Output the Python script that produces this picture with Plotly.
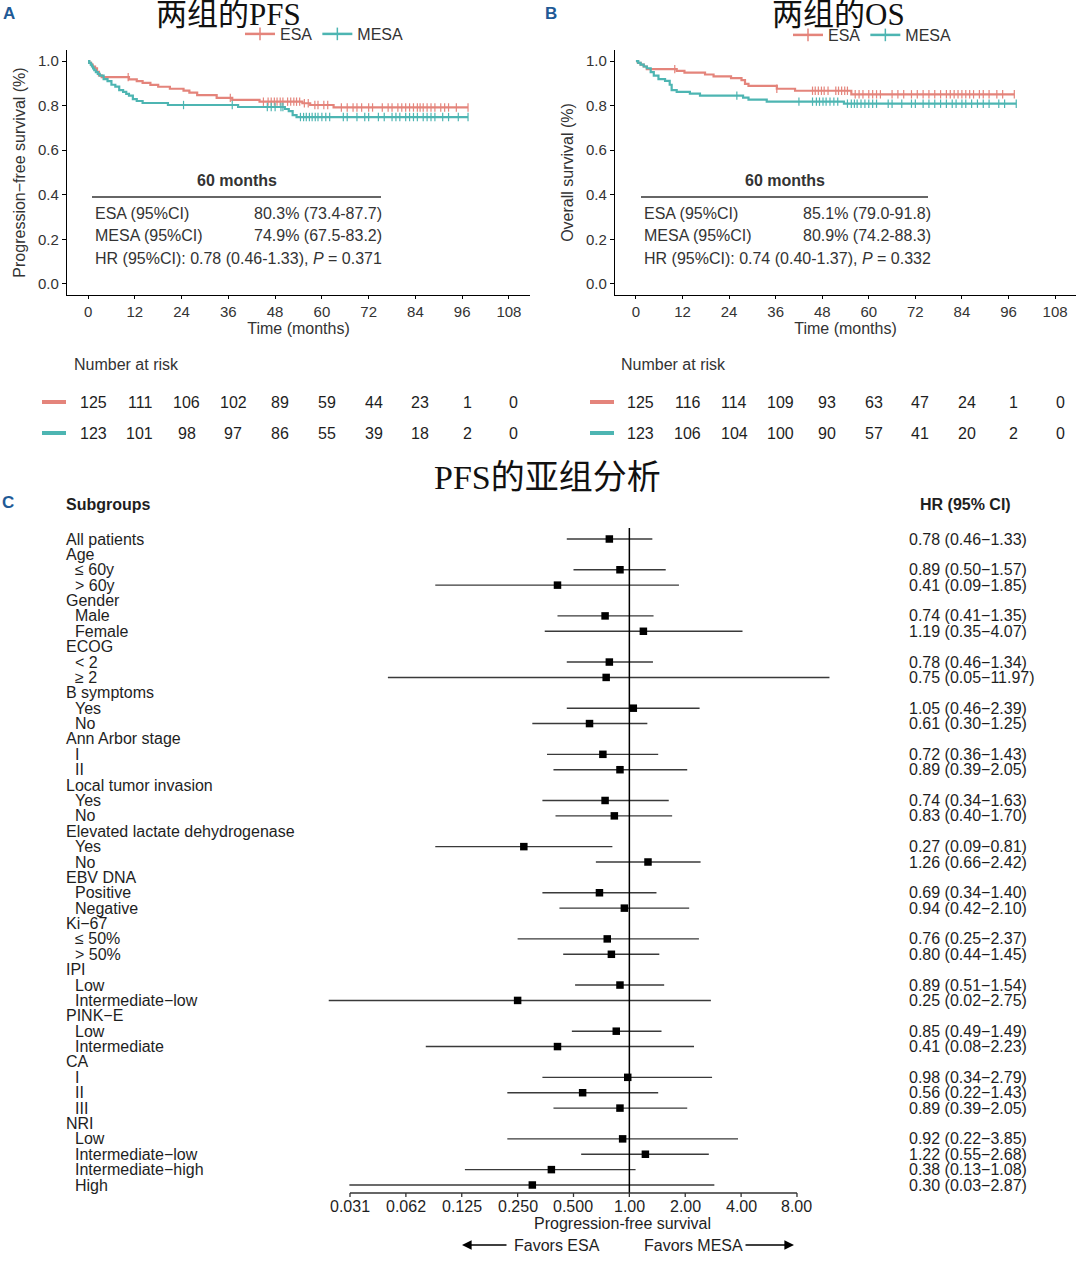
import numpy as np
import math
import plotly.graph_objects as go

# ---------------- DATA ----------------
# Panel A: PFS Kaplan-Meier (event times in months and survival after each step)
pfs_esa_t = [0.3, 0.8, 1.2, 1.8, 2.3, 2.8, 3.5, 10.5, 12.5, 14.0, 16.0, 18.0, 21.0, 24.5, 26.0, 28.0, 33.0, 37.0, 44.0, 55.0, 57.0, 63.0]
pfs_esa_s = [0.992, 0.984, 0.976, 0.968, 0.952, 0.936, 0.928, 0.918, 0.910, 0.902, 0.893, 0.885, 0.876, 0.868, 0.859, 0.847, 0.835, 0.826, 0.818, 0.811, 0.803, 0.792]
pfs_esa_cens = [10.3, 36.5, 45.0, 46.2, 47.0, 47.8, 48.5, 49.3, 50.0, 51.2, 52.0, 52.8, 53.5, 54.3, 55.5, 56.5, 58.2, 59.0, 60.5, 61.5,
                65.0, 66.5, 68.0, 69.0, 70.2, 72.0, 73.0, 75.5, 77.0, 78.0, 79.5, 80.5, 81.5, 82.5, 83.5, 84.5, 85.2, 86.0, 87.0,
                88.0, 89.0, 90.5, 91.5, 92.5, 94.5, 97.5]
pfs_mesa_t = [0.3, 0.7, 1.0, 1.3, 1.6, 2.0, 2.5, 3.0, 4.0, 5.0, 6.0, 7.0, 8.0, 9.0, 9.8, 10.5, 11.5, 12.5, 14.0, 20.5, 38.5, 50.5, 51.5, 52.5, 53.5]
pfs_mesa_s = [0.992, 0.984, 0.976, 0.967, 0.959, 0.951, 0.943, 0.935, 0.919, 0.910, 0.894, 0.886, 0.870, 0.862, 0.853, 0.845, 0.829, 0.821, 0.812, 0.803, 0.794, 0.785, 0.776, 0.758, 0.749]
pfs_mesa_cens = [24.5, 37.0, 46.0, 47.0, 48.0, 49.5, 50.0, 54.5, 55.3, 56.0, 56.8, 57.5, 58.3, 59.0, 60.0, 61.0, 62.0, 65.5, 66.5,
                 69.0, 71.0, 72.0, 74.5, 76.0, 78.0, 79.0, 80.0, 81.5, 82.5, 83.5, 84.5, 86.0, 87.0, 88.0, 89.0, 91.0, 92.5, 95.0, 97.5]

# Panel B: OS Kaplan-Meier
os_esa_t = [0.5, 1.2, 2.0, 2.8, 10.5, 12.5, 17.8, 20.0, 24.5, 27.2, 28.1, 29.0, 36.3, 41.0, 55.5]
os_esa_s = [0.992, 0.984, 0.976, 0.964, 0.956, 0.948, 0.940, 0.932, 0.924, 0.915, 0.898, 0.889, 0.876, 0.867, 0.851]
os_esa_cens = [10.0, 36.3, 45.5, 46.2, 47.0, 47.8, 48.5, 49.5, 51.5, 52.2, 53.0, 53.8, 54.5, 56.5, 57.5, 58.5, 60.0, 61.0, 62.0,
               63.0, 66.0, 67.5, 69.0, 71.0, 72.5, 74.0, 75.5, 77.0, 78.5, 80.0, 81.0, 82.0, 83.0, 84.0, 85.0, 86.0, 87.0, 88.5,
               89.5, 91.0, 93.0, 94.5, 97.5]
os_mesa_t = [0.6, 1.2, 2.0, 2.8, 3.8, 4.6, 5.8, 7.5, 8.7, 9.2, 10.5, 13.9, 16.5, 27.6, 29.0, 33.7, 53.6]
os_mesa_s = [0.992, 0.984, 0.976, 0.968, 0.951, 0.935, 0.919, 0.911, 0.894, 0.870, 0.862, 0.854, 0.845, 0.836, 0.827, 0.818, 0.809]
os_mesa_cens = [26.0, 42.0, 45.5, 46.5, 47.3, 48.2, 49.0, 50.0, 51.0, 52.0, 54.5, 55.5, 56.3, 57.0, 58.0, 59.0, 60.0, 61.0, 62.0,
                65.0, 66.0, 68.5, 71.0, 72.0, 74.0, 75.5, 77.0, 78.5, 80.0, 81.5, 82.5, 84.0, 85.0, 86.5, 88.0, 89.5, 91.0, 93.5,
                95.0, 98.0]

# Number at risk
risk_times = [0, 12, 24, 36, 48, 60, 72, 84, 96, 108]
pfs_risk_esa = [125, 111, 106, 102, 89, 59, 44, 23, 1, 0]
pfs_risk_mesa = [123, 101, 98, 97, 86, 55, 39, 18, 2, 0]
os_risk_esa = [125, 116, 114, 109, 93, 63, 47, 24, 1, 0]
os_risk_mesa = [123, 106, 104, 100, 90, 57, 41, 20, 2, 0]

# 60-month summary tables
pfs_summary = ["80.3% (73.4-87.7)", "74.9% (67.5-83.2)", "HR (95%CI): 0.78 (0.46-1.33), <i>P</i> = 0.371"]
os_summary = ["85.1% (79.0-91.8)", "80.9% (74.2-88.3)", "HR (95%CI): 0.74 (0.40-1.37), <i>P</i> = 0.332"]

# Panel C: forest plot
row_labels = ["All patients", "Age", "≤ 60y", "> 60y", "Gender", "Male", "Female", "ECOG", "< 2", "≥ 2",
              "B symptoms", "Yes", "No", "Ann Arbor stage", "I", "II", "Local tumor invasion", "Yes", "No",
              "Elevated lactate dehydrogenase", "Yes", "No", "EBV DNA", "Positive", "Negative", "Ki−67", "≤ 50%", "> 50%",
              "IPI", "Low", "Intermediate−low", "PINK−E", "Low", "Intermediate", "CA", "I", "II", "III",
              "NRI", "Low", "Intermediate−low", "Intermediate−high", "High"]
row_indent = [0, 0, 1, 1, 0, 1, 1, 0, 1, 1, 0, 1, 1, 0, 1, 1, 0, 1, 1, 0, 1, 1, 0, 1, 1, 0, 1, 1,
              0, 1, 1, 0, 1, 1, 0, 1, 1, 1, 0, 1, 1, 1, 1]
hr = [0.78, None, 0.89, 0.41, None, 0.74, 1.19, None, 0.78, 0.75, None, 1.05, 0.61, None, 0.72, 0.89, None, 0.74, 0.83,
      None, 0.27, 1.26, None, 0.69, 0.94, None, 0.76, 0.80, None, 0.89, 0.25, None, 0.85, 0.41, None, 0.98, 0.56, 0.89,
      None, 0.92, 1.22, 0.38, 0.30]
hr_lo = [0.46, None, 0.50, 0.09, None, 0.41, 0.35, None, 0.46, 0.05, None, 0.46, 0.30, None, 0.36, 0.39, None, 0.34, 0.40,
         None, 0.09, 0.66, None, 0.34, 0.42, None, 0.25, 0.44, None, 0.51, 0.024, None, 0.49, 0.08, None, 0.34, 0.22, 0.39,
         None, 0.22, 0.55, 0.13, 0.031]
hr_hi = [1.33, None, 1.57, 1.85, None, 1.35, 4.07, None, 1.34, 11.97, None, 2.39, 1.25, None, 1.43, 2.05, None, 1.63, 1.70,
         None, 0.81, 2.42, None, 1.40, 2.10, None, 2.37, 1.45, None, 1.54, 2.75, None, 1.49, 2.23, None, 2.79, 1.43, 2.05,
         None, 3.85, 2.68, 1.08, 2.87]
forest_ticks = [0.03125, 0.0625, 0.125, 0.25, 0.5, 1, 2, 4, 8]
forest_ticktext = ["0.031", "0.062", "0.125", "0.250", "0.500", "1.00", "2.00", "4.00", "8.00"]

# ---------------- STYLE / LAYOUT ----------------
W, H = 1080, 1266
def px(x): return x / W
def py(y): return 1 - y / H

ESA_C = "#E4847B"
MESA_C = "#4DB5B2"
SANS = "Liberation Sans, Arial, sans-serif"
SERIF = "Liberation Serif, Noto Sans CJK SC, serif"
TXT = "#1e1e1e"
TICK = "#333333"
PANEL_C = "#1F5A96"

fig = go.Figure()

def km_eval(times, surv, t):
    idx = np.searchsorted(np.array(times), np.array(t), side="right") - 1
    s = np.array([1.0] + list(surv))
    return s[idx + 1]

def add_km(times, surv, cens, color, xa, ya):
    end = max(cens)
    xs = [0] + list(times) + [end]
    ys = [1.0] + list(surv) + [surv[-1]]
    fig.add_trace(go.Scatter(x=xs, y=ys, mode="lines", line=dict(color=color, width=2.2, shape="hv"),
                             xaxis=xa, yaxis=ya, showlegend=False, hoverinfo="skip"))
    fig.add_trace(go.Scatter(x=cens, y=km_eval(times, surv, cens), mode="markers",
                             marker=dict(symbol="line-ns-open", size=6, color=color, line=dict(color=color, width=1.2)),
                             xaxis=xa, yaxis=ya, showlegend=False, hoverinfo="skip"))

add_km(pfs_esa_t, pfs_esa_s, pfs_esa_cens, ESA_C, "x", "y")
add_km(pfs_mesa_t, pfs_mesa_s, pfs_mesa_cens, MESA_C, "x", "y")
add_km(os_esa_t, os_esa_s, os_esa_cens, ESA_C, "x2", "y2")
add_km(os_mesa_t, os_mesa_s, os_mesa_cens, MESA_C, "x2", "y2")

# legend-only traces
for lg, xa, ya in [("legend", "x", "y"), ("legend2", "x2", "y2")]:
    for name, col in [("ESA", ESA_C), ("MESA", MESA_C)]:
        fig.add_trace(go.Scatter(x=[None], y=[None], mode="lines+markers", name=name,
                                 line=dict(color=col, width=2.5),
                                 marker=dict(symbol="line-ns-open", size=9, color=col, line=dict(color=col, width=1.5)),
                                 legend=lg, xaxis=xa, yaxis=ya, showlegend=True))

# forest plot
ci_x, ci_y, pt_x, pt_y = [], [], [], []
for i, (h, lo, hi) in enumerate(zip(hr, hr_lo, hr_hi)):
    if h is None:
        continue
    ci_x += [lo, hi, None]
    ci_y += [-i, -i, None]
    pt_x.append(h)
    pt_y.append(-i)
fig.add_trace(go.Scatter(x=ci_x, y=ci_y, mode="lines", line=dict(color="#3a3a3a", width=1.4),
                         xaxis="x3", yaxis="y3", showlegend=False, hoverinfo="skip"))
fig.add_trace(go.Scatter(x=pt_x, y=pt_y, mode="markers", marker=dict(symbol="square", size=7.5, color="black"),
                         xaxis="x3", yaxis="y3", showlegend=False, hoverinfo="skip"))

km_x_common = dict(range=[-5.4, 113.4], tickvals=risk_times, showgrid=False, zeroline=False,
                   showline=True, linecolor="black", linewidth=1.3, ticks="outside", ticklen=3,
                   tickcolor="black", tickfont=dict(family=SANS, size=15, color=TICK),
                   title=dict(text="Time (months)", font=dict(family=SANS, size=16, color=TICK), standoff=1),
                   automargin=False)
km_y_common = dict(range=[-0.05, 1.05], tickvals=[0, 0.2, 0.4, 0.6, 0.8, 1.0],
                   ticktext=["0.0", "0.2", "0.4", "0.6", "0.8", "1.0"], showgrid=False, zeroline=False,
                   showline=True, linecolor="black", linewidth=1.3, ticks="outside", ticklen=4,
                   tickcolor="black", tickfont=dict(family=SANS, size=15, color=TICK), automargin=False,
                   domain=[py(295), py(50)])

lg2 = math.log10(2)
fig.update_layout(
    width=W, height=H, margin=dict(l=0, r=0, t=0, b=0),
    paper_bgcolor="white", plot_bgcolor="white",
    xaxis=dict(domain=[px(67), px(530)], anchor="y", **km_x_common),
    yaxis=dict(anchor="x", title=dict(text="Progression−free survival (%)",
                                      font=dict(family=SANS, size=16, color=TICK), standoff=8), **km_y_common),
    xaxis2=dict(domain=[px(615), px(1076)], anchor="y2", **km_x_common),
    yaxis2=dict(anchor="x2", title=dict(text="Overall survival (%)",
                                        font=dict(family=SANS, size=16, color=TICK), standoff=8), **km_y_common),
    xaxis3=dict(domain=[px(300), px(860)], anchor="y3", type="log",
                range=[-5.895 * lg2, 4.128 * lg2], showticklabels=False, ticks="",
                showgrid=False, zeroline=False, showline=False, automargin=False),
    yaxis3=dict(domain=[py(1193), py(528)], anchor="x3", range=[-42.52, 0.715], visible=False,
                showgrid=False, zeroline=False),
    legend=dict(orientation="h", x=px(240), y=py(34), xanchor="left", yanchor="middle",
                font=dict(family=SANS, size=16, color=TICK), bgcolor="rgba(0,0,0,0)",
                itemwidth=30, tracegroupgap=0),
    legend2=dict(orientation="h", x=px(788), y=py(35), xanchor="left", yanchor="middle",
                 font=dict(family=SANS, size=16, color=TICK), bgcolor="rgba(0,0,0,0)",
                 itemwidth=30, tracegroupgap=0),
    showlegend=True,
)

ann = []
shapes = []

def text(x, y, s, size=16, anchor="left", bold=False, color=TXT, family=SANS, **kw):
    if bold:
        s = "<b>" + s + "</b>"
    ann.append(dict(x=x, y=y, xref="paper", yref="paper", text=s, showarrow=False, xanchor=anchor,
                    yanchor="middle", font=dict(family=family, size=size, color=color), **kw))

# Titles and panel letters
text(px(228), py(14.5), "两组的PFS", size=31, anchor="center", family=SERIF, color="#111111")
text(px(838), py(14.5), "两组的OS", size=31, anchor="center", family=SERIF, color="#111111")
text(px(547), py(477), "PFS的亚组分析", size=34, anchor="center", family=SERIF, color="#111111")
text(px(1), py(13), "A", size=17, bold=True, color=PANEL_C)
text(px(543), py(13), "B", size=17, bold=True, color=PANEL_C)
text(px(0), py(503), "C", size=17, bold=True, color=PANEL_C)

# 60-month summary boxes
for x0, x1, summ in [(92, 381, pfs_summary), (641, 928, os_summary)]:
    text(px((x0 + x1) / 2), py(181), "60 months", bold=True, anchor="center", color=TICK)
    shapes.append(dict(type="line", xref="paper", yref="paper", x0=px(x0), x1=px(x1), y0=py(197), y1=py(197),
                       line=dict(color="#333333", width=1.5)))
    text(px(x0 + 1), py(214), "ESA (95%CI)", color=TICK)
    text(px(x0 + 160), py(214), summ[0], color=TICK)
    text(px(x0 + 1), py(236), "MESA (95%CI)", color=TICK)
    text(px(x0 + 160), py(236), summ[1], color=TICK)
    text(px(x0 + 1), py(258), summ[2], color=TICK)

# Number at risk
for xa, lx, dash0, esa_r, mesa_r in [("x", 72, 42, pfs_risk_esa, pfs_risk_mesa),
                                      ("x2", 619, 590, os_risk_esa, os_risk_mesa)]:
    text(px(lx), py(365), "Number at risk", color=TICK)
    for yy, vals, col in [(402, esa_r, ESA_C), (433, mesa_r, MESA_C)]:
        shapes.append(dict(type="line", xref="paper", yref="paper", x0=px(dash0), x1=px(dash0 + 24),
                           y0=py(yy), y1=py(yy), line=dict(color=col, width=4)))
        for t, v in zip(risk_times, vals):
            ann.append(dict(x=t, y=py(yy), xref=xa, yref="paper", text=str(v), showarrow=False,
                            xanchor="center", yanchor="middle", xshift=5,
                            font=dict(family=SANS, size=16, color=TXT)))

# Forest: headers, labels, HR text
text(px(64), py(505), "Subgroups", bold=True, color=TXT)
text(px(965), py(505), "HR (95% CI)", bold=True, anchor="center", color=TXT)
for i, (lab, ind) in enumerate(zip(row_labels, row_indent)):
    ann.append(dict(x=px(64 + 9 * ind), y=-i, xref="paper", yref="y3", text=lab, showarrow=False,
                    xanchor="left", yanchor="middle", font=dict(family=SANS, size=16, color=TXT)))
    if hr[i] is not None:
        s = f"{hr[i]:.2f} ({hr_lo[i]:.2f}−{hr_hi[i]:.2f})"
        ann.append(dict(x=px(907), y=-i, xref="paper", yref="y3", text=s, showarrow=False,
                        xanchor="left", yanchor="middle", font=dict(family=SANS, size=16, color=TXT)))

# forest reference line, axis line, ticks and tick labels
shapes.append(dict(type="line", xref="x3", yref="y3 domain", x0=1, x1=1, y0=0, y1=1,
                   line=dict(color="black", width=1.5)))
shapes.append(dict(type="line", xref="x3", yref="y3 domain", x0=forest_ticks[0], x1=forest_ticks[-1], y0=0, y1=0,
                   line=dict(color="#333333", width=1.5)))
for tv, tt in zip(forest_ticks, forest_ticktext):
    shapes.append(dict(type="line", xref="x3", yref="paper", x0=tv, x1=tv, y0=py(1193), y1=py(1197),
                       line=dict(color="#333333", width=1.3)))
    # annotations on a log axis take log10 coordinates
    ann.append(dict(x=math.log10(tv), y=py(1206), xref="x3", yref="paper", text=tt, showarrow=False,
                    xanchor="center", yanchor="middle", font=dict(family=SANS, size=16, color=TXT)))
text(px(622), py(1223), "Progression-free survival", anchor="center", color=TXT)
text(px(557), py(1245), "Favors ESA", anchor="center", color=TXT)
text(px(693), py(1245), "Favors MESA", anchor="center", color=TXT)
ann.append(dict(x=px(462), y=py(1245), xref="paper", yref="paper", ax=46, ay=0, text="", showarrow=True,
                arrowhead=2, arrowsize=1.2, arrowwidth=1.6, arrowcolor="black"))
ann.append(dict(x=px(794), y=py(1245), xref="paper", yref="paper", ax=-50, ay=0, text="", showarrow=True,
                arrowhead=2, arrowsize=1.2, arrowwidth=1.6, arrowcolor="black"))

fig.update_layout(annotations=ann, shapes=shapes)
fig.write_html("out.html", config={"displayModeBar": False},
               post_script="document.body.style.margin='0px';document.body.style.padding='0px';")
